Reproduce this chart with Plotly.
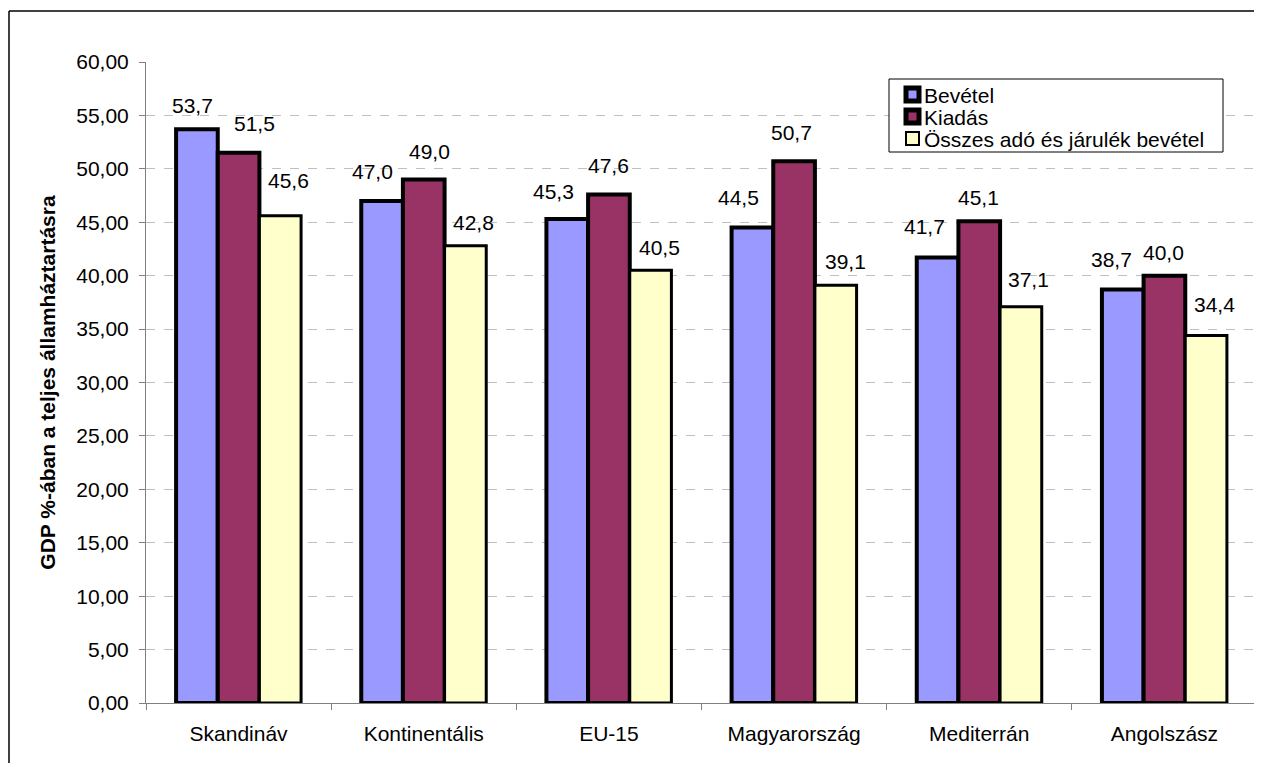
import plotly.graph_objects as go

categories = ["Skandináv", "Kontinentális", "EU-15", "Magyarország", "Mediterrán", "Angolszász"]
bevetel = [53.7, 47.0, 45.3, 44.5, 41.7, 38.7]
kiadas = [51.5, 49.0, 47.6, 50.7, 45.1, 40.0]
osszes = [45.6, 42.8, 40.5, 39.1, 37.1, 34.4]
series_names = ["Bevétel", "Kiadás", "Összes adó és járulék bevétel"]
y_title = "GDP %-ában a teljes államháztartásra"

# styling
colors = ["#9999FF", "#993366", "#FFFFCC"]
line_widths = [4, 4, 3]
legend_line_widths = [5, 5, 2]
FONT = "Liberation Sans, Arial, sans-serif"
FS = 21
bargap = 0.325
# label pixel offsets relative to bar-top centre (dx right, dy up)
label_dx = [[-4.5, -10, -14, -14, -13, -11.7],
            [15.5, 6, 0, -2.4, -1, -1],
            [8, 8.5, 9, 10, 8, 8]]
label_dy = [[24, 29, 27.5, 30, 31.5, 29.6],
            [29, 28.5, 28.5, 29, 24, 23],
            [35, 23, 23, 24, 27.5, 31]]

# page body has an 8px margin, so the figure is sized/positioned to compensate
OFF = 8
W, H = 1262 - OFF, 771 - 2 * OFF
PL, PR, PT, PB = 146, 1257, 62, 703          # plot area in window pixels
ML, MT = PL - OFF, PT - OFF
MR = W - (PR - OFF)
MB = H - (PB - OFF)
pw, ph = W - ML - MR, H - MT - MB


def px(x):
    return (x - PL) / pw


def py(y):
    return (PB - y) / ph


all_series = [bevetel, kiadas, osszes]
fig = go.Figure()
for j, vals in enumerate(all_series):
    fig.add_trace(go.Bar(
        name=series_names[j], x=categories, y=vals,
        marker=dict(color=colors[j], line=dict(color="black", width=line_widths[j])),
        hoverinfo="x+y",
    ))

bw = (1 - bargap) / 3
annotations = []
for j, vals in enumerate(all_series):
    for i, v in enumerate(vals):
        annotations.append(dict(
            x=i + (j - 1) * bw, y=v, xref="x", yref="y",
            text=f"{v:.1f}".replace(".", ","), showarrow=False,
            xanchor="center", yanchor="middle",
            xshift=label_dx[j][i], yshift=label_dy[j][i],
            font=dict(family=FONT, size=FS, color="black"),
        ))

shapes = [
    # outer chart border (top and left visible)
    dict(type="line", xref="paper", yref="paper", x0=px(9), x1=1.2, y0=py(11), y1=py(11),
         line=dict(color="black", width=1.5)),
    dict(type="line", xref="paper", yref="paper", x0=px(9), x1=px(9), y0=py(11), y1=-0.5,
         line=dict(color="black", width=1.5)),
    # legend box
    dict(type="rect", xref="paper", yref="paper", x0=px(889), x1=px(1223), y0=py(79), y1=py(152),
         line=dict(color="black", width=1), fillcolor="white", layer="above"),
]

# custom legend entries (compact row spacing as in the original)
row_centers = [94.5, 116.5, 138.5]
for j, name in enumerate(series_names):
    cy = row_centers[j]
    half = 6.5 if j < 2 else 6.5
    shapes.append(dict(
        type="rect", xref="paper", yref="paper",
        x0=px(912.5 - half), x1=px(912.5 + half), y0=py(cy + half), y1=py(cy - half),
        line=dict(color="black", width=legend_line_widths[j]), fillcolor=colors[j], layer="above",
    ))
    annotations.append(dict(
        x=px(922), y=py(cy + 1), xref="paper", yref="paper", text=name, showarrow=False,
        xanchor="left", yanchor="middle", font=dict(family=FONT, size=FS, color="black"),
    ))

fig.update_layout(
    width=W, height=H,
    margin=dict(l=ML, r=MR, t=MT, b=MB, pad=0),
    paper_bgcolor="white", plot_bgcolor="white",
    barmode="group", bargap=bargap, bargroupgap=0,
    separators=", ",
    font=dict(family=FONT, size=FS, color="black"),
    showlegend=False,
    annotations=annotations,
    shapes=shapes,
    xaxis=dict(
        type="category", showline=True, linecolor="#808080", linewidth=1,
        ticks="outside", tickson="boundaries", ticklen=6, tickcolor="#808080",
        showgrid=False, ticklabelstandoff=12,
        tickfont=dict(family=FONT, size=FS),
    ),
    yaxis=dict(
        range=[0, 60], dtick=5, tickformat=".2f",
        showline=True, linecolor="#808080", linewidth=1,
        ticks="outside", ticklen=6, tickcolor="#808080",
        showgrid=True, gridcolor="#C0C0C0", griddash="dash", gridwidth=1,
        zeroline=False, ticklabelstandoff=6,
        tickfont=dict(family=FONT, size=FS),
        title=dict(text=f"<b>{y_title}</b>", font=dict(family=FONT, size=FS), standoff=14),
    ),
)

fig.write_html("out.html")
